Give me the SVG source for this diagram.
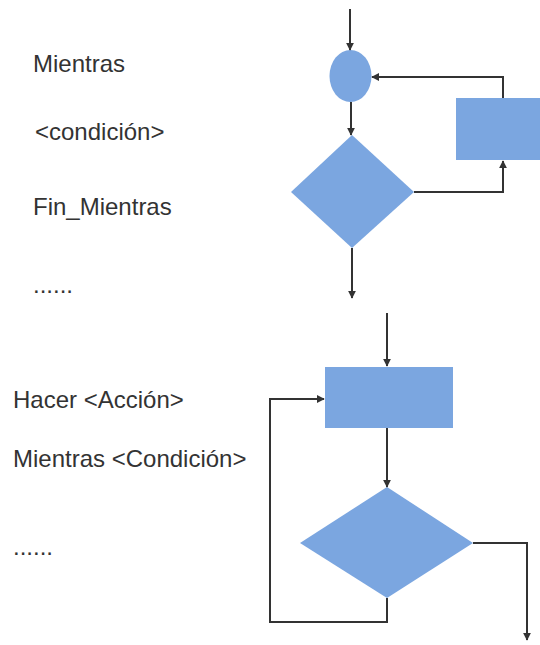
<svg xmlns="http://www.w3.org/2000/svg" width="540" height="645" viewBox="0 0 540 645">
<defs>
<style>
.lbl{font-family:"Liberation Sans",Arial,sans-serif;font-size:24px;fill:#333}
.shape{fill:#7ba6e0;stroke:none}
.conn{fill:none;stroke:#333;stroke-width:2}
</style>
<marker id="ah" viewBox="0 0 10 10" refX="9" refY="5" markerWidth="8" markerHeight="8" markerUnits="userSpaceOnUse" orient="auto">
<path d="M0,0 L10,5 L0,10 z" fill="#333"/>
</marker>
</defs>
<rect width="540" height="645" fill="#fff"/>
<g id="texts">
<text class="lbl" x="33" y="72">Mientras</text>
<text class="lbl" x="35" y="140">&lt;condición&gt;</text>
<text class="lbl" x="33" y="215">Fin_Mientras</text>
<text class="lbl" x="33" y="293">......</text>
<text class="lbl" x="13" y="408">Hacer &lt;Acción&gt;</text>
<text class="lbl" x="13" y="467">Mientras &lt;Condición&gt;</text>
<text class="lbl" x="13" y="555">......</text>
</g>
<g id="start-circle"><ellipse class="shape" cx="350.5" cy="76" rx="21" ry="26"/></g>
<g id="decision-top"><polygon class="shape" points="352,135 414,192 352,248 291,192"/></g>
<g id="action-top"><rect class="shape" x="456" y="98" width="84" height="62"/></g>
<g id="action-bottom"><rect class="shape" x="325" y="367" width="128" height="61"/></g>
<g id="decision-bottom"><polygon class="shape" points="387,487 473,543 387,598 300,543"/></g>
<g id="connectors">
<path class="conn" d="M350,9 V50" marker-end="url(#ah)"/>
<path class="conn" d="M351,102 V135" marker-end="url(#ah)"/>
<path class="conn" d="M414,192 H503 V161" marker-end="url(#ah)"/>
<path class="conn" d="M503,98 V77 H372" marker-end="url(#ah)"/>
<path class="conn" d="M352,248 V298" marker-end="url(#ah)"/>
<path class="conn" d="M387,313 V366" marker-end="url(#ah)"/>
<path class="conn" d="M387,428 V487" marker-end="url(#ah)"/>
<path class="conn" d="M387,598 V622 H270 V399 H324" marker-end="url(#ah)"/>
<path class="conn" d="M473,543 H527 V640" marker-end="url(#ah)"/>
</g>
</svg>
